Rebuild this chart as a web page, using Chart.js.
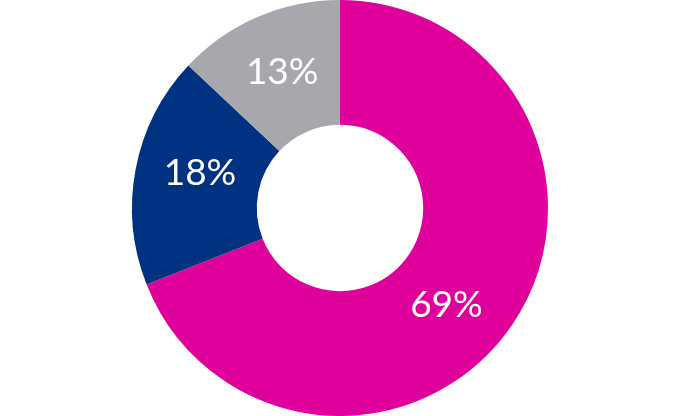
<!DOCTYPE html>
<html>
<head>
<meta charset="utf-8">
<script src="https://cdn.jsdelivr.net/npm/chart.js@4"></script>
<style>
html,body{margin:0;padding:0;background:#fff;}
#wrap{width:680px;height:416px;position:relative;}
</style>
</head>
<body>
<div id="wrap"><canvas id="c"></canvas></div>
<script>
const categories = ["A", "B", "C"];
const values = [69, 18, 13];
const labels = ["69%", "18%", "13%"];
const colors = ["#E0009B", "#003282", "#A7A8AD"];

const labelPlugin = {
  id: 'sliceLabels',
  afterDatasetsDraw(chart, args, opts) {
    const ctx = chart.ctx;
    const meta = chart.getDatasetMeta(0);
    const nudges = opts.nudges || [];
    ctx.save();
    ctx.fillStyle = '#ffffff';
    ctx.font = '400 37px Lato, "Open Sans", sans-serif';
    ctx.textAlign = 'center';
    ctx.textBaseline = 'middle';
    meta.data.forEach((arc, i) => {
      const p = arc.tooltipPosition();
      const n = nudges[i] || [0, 0];
      ctx.fillText(labels[i], p.x + n[0], p.y + 1 + n[1]);
    });
    ctx.restore();
  }
};

new Chart(document.getElementById('c'), {
  type: 'doughnut',
  data: {
    labels: categories,
    datasets: [{
      data: values,
      backgroundColor: colors,
      borderWidth: 0,
      hoverOffset: 0
    }]
  },
  options: {
    responsive: true,
    maintainAspectRatio: false,
    animation: false,
    cutout: '40%',
    layout: { padding: 0 },
    plugins: {
      legend: { display: false },
      tooltip: { enabled: false },
      sliceLabels: { nudges: [[-14, 14], [3, -9], [0, -3]] }
    }
  },
  plugins: [labelPlugin]
});
</script>
</body>
</html>
